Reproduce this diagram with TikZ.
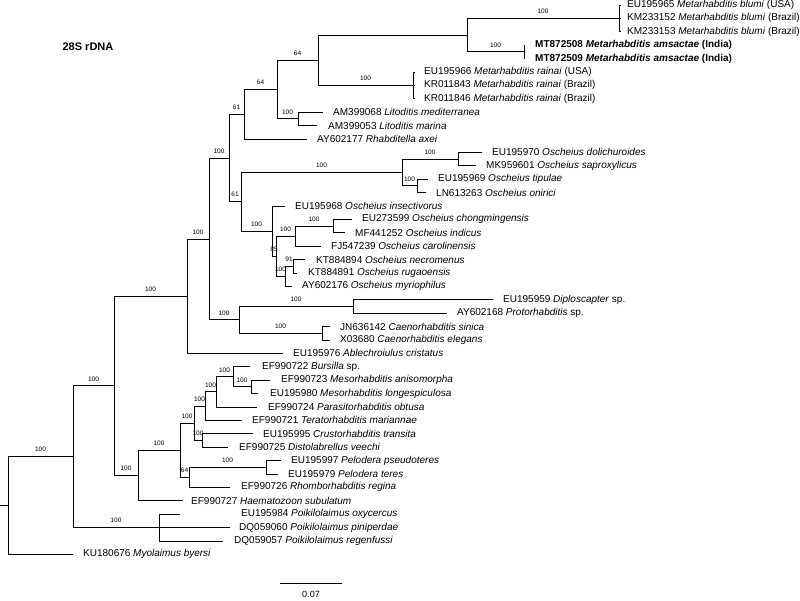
\documentclass[tikz,border=0pt]{standalone}
\usepackage{fontspec}
\setmainfont{Liberation Sans}
\tikzset{
  br/.style={line width=0.9pt},
  bs/.style={font=\fontsize{6.5}{7}\selectfont, inner sep=1pt, above=3.3pt},
  tax/.style={anchor=west, inner sep=0pt, font=\fontsize{10}{12}\selectfont}
}
\begin{document}
\begin{tikzpicture}[x=1pt, y=-1pt]
    \useasboundingbox (0,0) rectangle (800,600);

    % Internal nodes
    \coordinate (root0) at (0,505.6);
    \coordinate (root) at (8,505.6);
    \coordinate (nA) at (73,456.7);
    \coordinate (nB) at (114,385.9);
    \coordinate (poik) at (159,527.6);
    \coordinate (nC) at (187,296.2);
    \coordinate (nH) at (138,475.6);
    \coordinate (nD) at (209,239);
    \coordinate (nE) at (239,319.9);
    \coordinate (dipl) at (353,306.5);
    \coordinate (caeno) at (322,333.3);
    \coordinate (nF) at (229,158);
    \coordinate (nL) at (244,114.3);
    \coordinate (nM) at (277,89.6);
    \coordinate (nN) at (318,60.3);
    \coordinate (nQ) at (467,35.2);
    \coordinate (blumi) at (619,18.4);
    \coordinate (amsac) at (524,51.9);
    \coordinate (rainai) at (413,85.4);
    \coordinate (lito) at (298,118.9);
    \coordinate (osch) at (241,201.8);
    \coordinate (nT) at (402,172.5);
    \coordinate (doli) at (458,159.1);
    \coordinate (tipu) at (417,185.9);
    \coordinate (nU) at (272,231.1);
    \coordinate (nX) at (276,256.3);
    \coordinate (nY) at (295,236.2);
    \coordinate (chong) at (333,226.1);
    \coordinate (nZ) at (285,276.4);
    \coordinate (necro) at (293,266.3);
    \coordinate (nI) at (180,450.3);
    \coordinate (nJ) at (194,423.3);
    \coordinate (nK) at (205,406.2);
    \coordinate (nO) at (216,391.9);
    \coordinate (burs) at (233,376.9);
    \coordinate (meso) at (251,386.9);
    \coordinate (crus) at (202,440.5);
    \coordinate (nG) at (189,477.4);
    \coordinate (pelo) at (266,467.3);

    % Taxa
    \foreach \n/\tx/\lx/\txt in {
        1/621/627/{EU195965 \textit{Metarhabditis blumi} (USA)},
        2/621/627/{KM233152 \textit{Metarhabditis blumi} (Brazil)},
        3/621/627/{KM233153 \textit{Metarhabditis blumi} (Brazil)},
        4/524.5/535/{\textbf{MT872508 \textit{Metarhabditis amsactae} (India)}},
        5/524.5/535/{\textbf{MT872509 \textit{Metarhabditis amsactae} (India)}},
        6/415/424/{EU195966 \textit{Metarhabditis rainai} (USA)},
        7/415/424/{KR011843 \textit{Metarhabditis rainai} (Brazil)},
        8/415/424/{KR011846 \textit{Metarhabditis rainai} (Brazil)},
        9/323/333/{AM399068 \textit{Litoditis mediterranea}},
        10/317/328/{AM399053 \textit{Litoditis marina}},
        11/307/317/{AY602177 \textit{Rhabditella axei}},
        12/482/492/{EU195970 \textit{Oscheius dolichuroides}},
        13/476/486/{MK959601 \textit{Oscheius saproxylicus}},
        14/428/438/{EU195969 \textit{Oscheius tipulae}},
        15/426/436/{LN613263 \textit{Oscheius onirici}},
        16/285/295/{EU195968 \textit{Oscheius insectivorus}},
        17/352/362/{EU273599 \textit{Oscheius chongmingensis}},
        18/345/355/{MF441252 \textit{Oscheius indicus}},
        19/321/331/{FJ547239 \textit{Oscheius carolinensis}},
        20/305/316/{KT884894 \textit{Oscheius necromenus}},
        21/297/308/{KT884891 \textit{Oscheius rugaoensis}},
        22/292/302/{AY602176 \textit{Oscheius myriophilus}},
        23/493/503/{EU195959 \textit{Diploscapter} sp.},
        24/447/457/{AY602168 \textit{Protorhabditis} sp.},
        25/330/340/{JN636142 \textit{Caenorhabditis sinica}},
        26/330/340/{X03680 \textit{Caenorhabditis elegans}},
        27/283/293/{EU195976 \textit{Ablechroiulus cristatus}},
        28/250/262/{EF990722 \textit{Bursilla} sp.},
        29/270/281/{EF990723 \textit{Mesorhabditis anisomorpha}},
        30/258/270/{EU195980 \textit{Mesorhabditis longespiculosa}},
        31/257/268/{EF990724 \textit{Parasitorhabditis obtusa}},
        32/242/252/{EF990721 \textit{Teratorhabditis mariannae}},
        33/253/263/{EU195995 \textit{Crustorhabditis transita}},
        34/228/239/{EF990725 \textit{Distolabrellus veechi}},
        35/281/291/{EU195997 \textit{Pelodera pseudoteres}},
        36/278/288/{EU195979 \textit{Pelodera teres}},
        37/230/241/{EF990726 \textit{Rhomborhabditis regina}},
        38/183/191/{EF990727 \textit{Haematozoon subulatum}},
        39/180/241/{EU195984 \textit{Poikilolaimus oxycercus}},
        40/230/239/{DQ059060 \textit{Poikilolaimus piniperdae}},
        41/223/234/{DQ059057 \textit{Poikilolaimus regenfussi}},
        42/73/83/{KU180676 \textit{Myolaimus byersi}}} {
        \coordinate (t\n) at (\tx,{5+13.4*(\n-1)});
        \node[tax] (l\n) at (\lx,{5+13.4*(\n-1)}) {\txt};
    }

    % Branches with bootstrap values
    \foreach \a/\b/\v in {root/nA/100, nA/nB/100, nA/poik/100, nB/nC/100, nB/nH/100,
        nC/nD/100, nD/nF/100, nD/nE/100, nE/dipl/100, nE/caeno/100,
        nF/nL/61, nF/osch/61, nL/nM/64, nM/nN/64, nM/lito/100, nN/rainai/100,
        nQ/blumi/100, nQ/amsac/100, osch/nT/100, osch/nU/100, nT/doli/100,
        nT/tipu/100, nU/nX/85, nX/nY/100, nY/chong/100, nX/nZ/100, nZ/necro/91,
        nH/nI/100, nI/nJ/100, nI/nG/64, nJ/nK/100, nJ/crus/100, nK/nO/100,
        nO/burs/100, burs/meso/100, nG/pelo/100}
        \draw[br] (\a) |- (\b) node[bs, pos=0.75] {\v};

    % Branches to taxa
    \foreach \a/\b in {blumi/t1, blumi/t2, blumi/t3, amsac/t4, amsac/t5,
        rainai/t6, rainai/t7, rainai/t8, lito/t9, lito/t10, nL/t11,
        doli/t12, doli/t13, tipu/t14, tipu/t15, nU/t16, chong/t17, chong/t18,
        nY/t19, necro/t20, necro/t21, nZ/t22, dipl/t23, dipl/t24,
        caeno/t25, caeno/t26, nC/t27, burs/t28, meso/t29, meso/t30, nO/t31,
        nK/t32, crus/t33, crus/t34, pelo/t35, pelo/t36, nG/t37, nH/t38,
        poik/t39, poik/t40, poik/t41, root/t42, nN/nQ}
        \draw[br] (\a) |- (\b);
    \draw[br] (root0) -- (root);

    % Title and scale bar
    \node[font=\bfseries\fontsize{11}{13}\selectfont] (title) at (88,46.7) {28S rDNA};
    \coordinate (s0) at (280,583.3);
    \coordinate (s1) at (341.7,583.3);
    \draw[br] (s0) -- (s1);
    \node[font=\fontsize{9}{11}\selectfont] (scale) at (311,594) {0.07};
\end{tikzpicture}
\end{document}
